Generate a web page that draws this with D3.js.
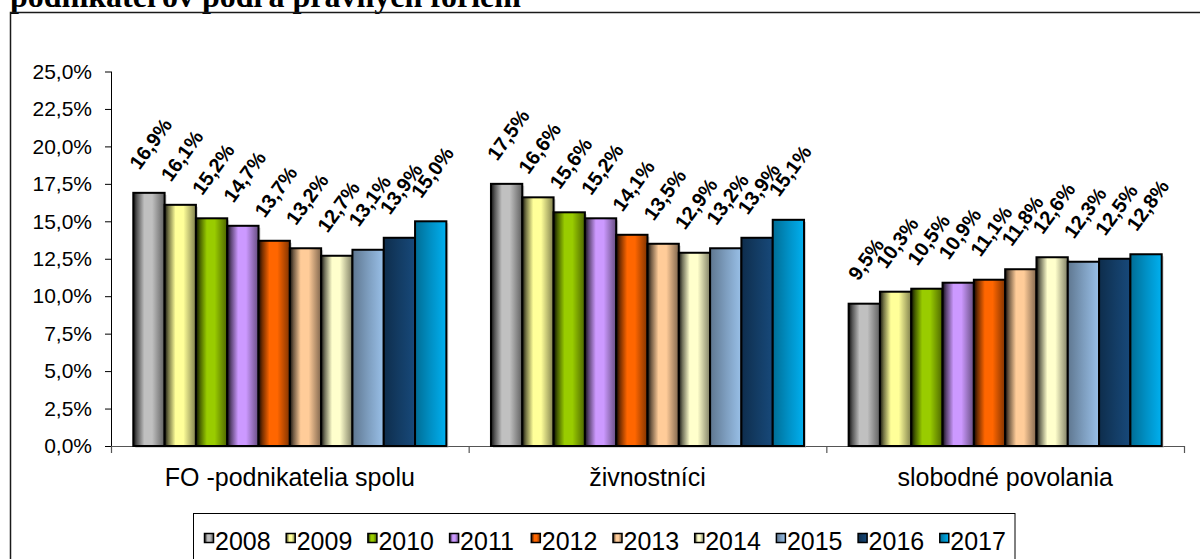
<!DOCTYPE html>
<html>
<head>
<meta charset="utf-8">
<script src="https://cdn.jsdelivr.net/npm/d3@7"></script>
<style>
  html, body { margin: 0; padding: 0; background: #fff; }
  svg { display: block; }
</style>
</head>
<body>
<svg id="chart" width="1200" height="559"></svg>
<script>
const title = "podnikateľov podľa právnych foriem";
const categories = ["FO -podnikatelia spolu", "živnostníci", "slobodné povolania"];
const years = ["2008","2009","2010","2011","2012","2013","2014","2015","2016","2017"];
const colors = ["#c0c0c0","#ffff99","#99cc00","#cc99ff","#ff6600","#ffcc99","#ffffcc","#99c0e8","#17497a","#00b0f0"];
const valuesFO = [16.9,16.1,15.2,14.7,13.7,13.2,12.7,13.1,13.9,15.0];
const valuesZiv = [17.5,16.6,15.6,15.2,14.1,13.5,12.9,13.2,13.9,15.1];
const valuesSlob = [9.5,10.3,10.5,10.9,11.1,11.8,12.6,12.3,12.5,12.8];
const yTicks = [0,2.5,5,7.5,10,12.5,15,17.5,20,22.5,25];

const seriesValues = [valuesFO, valuesZiv, valuesSlob];
const svg = d3.select("#chart");
svg.append("rect").attr("width",1200).attr("height",559).attr("fill","#fff");

// gradients
const defs = svg.append("defs");
years.forEach((yr,i) => {
  const g = defs.append("linearGradient").attr("id","g"+i)
    .attr("x1","0%").attr("x2","100%").attr("y1","0%").attr("y2","0%");
  const c = colors[i];
  const dark = t => d3.interpolateRgb(c, "#000")(t);
  let stops;
  if (i < 7) {
    stops = [[0, dark(0.92)],[0.12, dark(0.55)],[0.35, c],[0.6, c],[1, dark(0.5)]];
  } else {
    stops = [[0, dark(0.38)],[0.5, dark(0.18)],[1, c]];
  }
  stops.forEach(s => g.append("stop").attr("offset", s[0]).attr("stop-color", s[1]));
});

// title (cut at top, as in the source)
svg.append("text").attr("x", 10).attr("y", 7)
  .attr("font-family","'Liberation Serif', 'Times New Roman', serif")
  .attr("font-weight","bold").attr("font-size", 32)
  .attr("fill","#000").text(title);

// outer frame
svg.append("rect").attr("x",10.5).attr("y",12.5).attr("width",1300).attr("height",700)
  .attr("fill","none").attr("stroke","#1a1a1a").attr("stroke-width",1.5);

const y = d3.scaleLinear().domain([0,25]).range([446,71.5]);
const x0 = d3.scaleBand().domain(categories).range([111,1184]).padding(0);
const x1 = d3.scaleBand().domain(years).range([22.3, x0.bandwidth()-22.3]).padding(0);

// y axis
const yAxis = svg.append("g").attr("transform","translate(111,0)")
  .call(d3.axisLeft(y).tickValues(yTicks).tickSize(6).tickPadding(13)
    .tickFormat(d => d.toFixed(1).replace(".", ",") + "%"));
yAxis.select(".domain").attr("stroke","#000").attr("d","M0.5,71.5V446.5");
yAxis.selectAll(".tick line").attr("stroke","#000");
yAxis.selectAll(".tick text").attr("font-family","Arial, 'Liberation Sans', sans-serif")
  .attr("font-size",21).attr("fill","#000");

// x axis
svg.append("line").attr("x1",111).attr("x2",1184).attr("y1",446.5).attr("y2",446.5)
  .attr("stroke","#555").attr("stroke-width",1.2);
const bounds = [...categories.map(c => x0(c)), x0.range()[1]];
svg.selectAll("line.xt").data(bounds).join("line").attr("class","xt")
  .attr("x1", d => d + 0.5).attr("x2", d => d + 0.5).attr("y1", 446).attr("y2", 453)
  .attr("stroke","#555").attr("stroke-width",1.2);
svg.selectAll("text.cat").data(categories).join("text").attr("class","cat")
  .attr("x", d => x0(d) + x0.bandwidth()/2).attr("y", 486)
  .attr("text-anchor","middle").attr("font-family","Arial, 'Liberation Sans', sans-serif")
  .attr("font-size",25).attr("fill","#000").text(d => d);

// bars
const ANG = 54, FS = 20;
const rad = ANG * Math.PI / 180;
const groups = svg.selectAll("g.grp").data(categories).join("g").attr("class","grp")
  .attr("transform", d => `translate(${x0(d)},0)`);
groups.each(function(cat, ci) {
  const g = d3.select(this);
  const vals = seriesValues[ci];
  const data = years.map((yr,i) => ({yr, i, v: vals[i]}));
  g.selectAll("rect.sh").data(data).join("rect").attr("class","sh")
    .attr("x", d => x1(d.yr) + 2).attr("y", d => y(d.v) + 2)
    .attr("width", x1.bandwidth()).attr("height", d => y(0) - y(d.v))
    .attr("fill","#bbb").attr("opacity",0.6);
  g.selectAll("rect.bar").data(data).join("rect").attr("class","bar")
    .attr("x", d => x1(d.yr)).attr("y", d => y(d.v))
    .attr("width", x1.bandwidth()).attr("height", d => y(0) - y(d.v))
    .attr("fill", d => `url(#g${d.i})`).attr("stroke","#000").attr("stroke-width",2);
  g.selectAll("text.lbl").data(data).join("text").attr("class","lbl")
    .attr("font-family","Arial, 'Liberation Sans', sans-serif").attr("font-weight","bold")
    .attr("font-size",FS).attr("fill","#000")
    .text(d => d.v.toFixed(1).replace(".", ",") + "%")
    .attr("transform", function(d) {
      const L = this.getComputedTextLength();
      const h = 0.716 * FS;
      const cx = x1(d.yr) + x1.bandwidth()/2 + 1.5;
      const px = cx - (L*Math.cos(rad) - h*Math.sin(rad))/2;
      const py = y(d.v) - 22;
      return `translate(${px},${py}) rotate(${-ANG})`;
    });
});

// legend
const lg = svg.append("g");
lg.append("rect").attr("x",193.5).attr("y",513.5).attr("width",821.5).attr("height",80)
  .attr("fill","#fff").attr("stroke","#000").attr("stroke-width",1);
const lx = d3.scaleBand().domain(years).range([204, 1021]);
const items = lg.selectAll("g.li").data(years).join("g").attr("class","li")
  .attr("transform", d => `translate(${lx(d)},0)`);
items.append("rect").attr("x",0.5).attr("y",533.5).attr("width",9).attr("height",9)
  .attr("fill", (d,i) => `url(#g${i})`).attr("stroke","#000").attr("stroke-width",1.5);
items.append("text").attr("x",11).attr("y",550)
  .attr("font-family","Arial, 'Liberation Sans', sans-serif").attr("font-size",25)
  .attr("fill","#000").text(d => d);
</script>
</body>
</html>
